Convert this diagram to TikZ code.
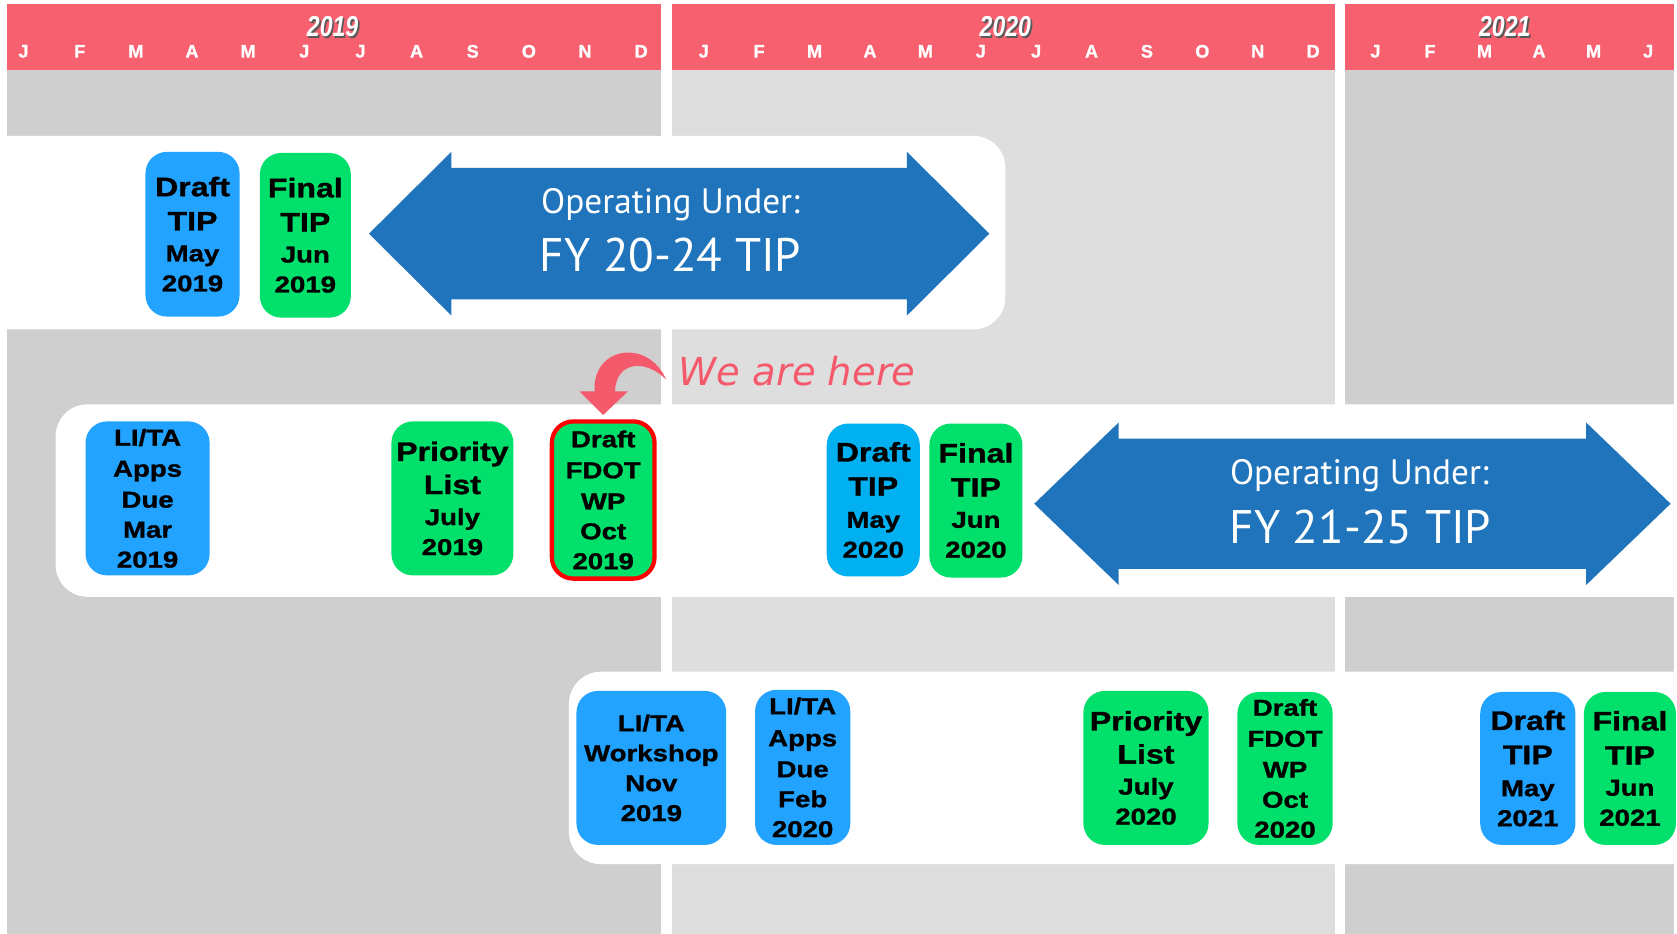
\documentclass[tikz,border=0pt]{standalone}
\usepackage{fontspec}
\setmainfont{Liberation Sans}
\newfontfamily\boxfont{Liberation Sans}[FakeStretch=1.2, FakeBold=1.2]
\newfontfamily\monthfont{Liberation Sans}[FakeBold=1]
\newfontfamily\yearfont{Liberation Sans}[FakeStretch=0.8]
\newfontfamily\arrowfont{PT Sans}
\newfontfamily\herefont{DejaVu Sans}
\usetikzlibrary{positioning}

\definecolor{hdrred}{HTML}{F7616F}
\definecolor{tipblue}{HTML}{1F74BB}
\definecolor{evblue}{HTML}{22A3FF}
\definecolor{evcyan}{HTML}{00B0F0}
\definecolor{evgreen}{HTML}{00E06A}
\definecolor{darkcol}{HTML}{CFCFCF}
\definecolor{lightcol}{HTML}{DEDEDE}
\definecolor{herered}{HTML}{F45A6B}

\newcommand{\bigtxt}{\fontsize{25}{28}\selectfont}

\begin{document}
\begin{tikzpicture}[
            x=1pt, y=-1pt,
            event/.style={
                fill=#1,
                rounded corners=20pt,
                inner sep=0pt,
                align=center,
                font=\boxfont\bfseries\fontsize{21.5}{28}\selectfont
            },
            month/.style={text=white, font=\monthfont\bfseries\fontsize{17}{17}\selectfont},
            year/.style={text=white, font=\yearfont\bfseries\itshape\fontsize{27}{27}\selectfont},
            yearshadow/.style={year, text=black!65},
            optext/.style={text=white, font=\arrowfont\fontsize{33}{33}\selectfont},
            fytext/.style={text=white, font=\arrowfont\fontsize{44}{44}\selectfont},
            heretext/.style={text=herered, font=\herefont\itshape\fontsize{36}{36}\selectfont}
        ]

        \useasboundingbox (0,0) rectangle (1568,873);

        % columns
        \fill[darkcol] (7,65) rectangle (618,873);
        \fill[lightcol] (628,65) rectangle (1248,873);
        \fill[darkcol] (1258,65) rectangle (1565,873);

        % header
        \fill[hdrred] (7,4) rectangle (618,65);
        \fill[hdrred] (628,4) rectangle (1248,65);
        \fill[hdrred] (1258,4) rectangle (1565,65);

        \node[yearshadow] at (312.5,26.5) {2019};
        \node[year] (y19) at (311,25) {2019};
        \node[yearshadow] at (941.5,26.5) {2020};
        \node[year] (y20) at (940,25) {2020};
        \node[yearshadow] at (1408.5,26.5) {2021};
        \node[year] (y21) at (1407,25) {2021};

        \foreach \m [count=\i from 0] in {J,F,M,A,M,J,J,A,S,O,N,D}
            \node[month] (a\i) at ({22+52.5*\i},48) {\m};
        \foreach \m [count=\i from 0] in {J,F,M,A,M,J,J,A,S,O,N,D}
            \node[month] (b\i) at ({658+51.8*\i},48) {\m};
        \foreach \m [count=\i from 0] in {J,F,M,A,M,J}
            \node[month] (c\i) at ({1286+51*\i},48) {\m};

        % bands
        \fill[white, rounded corners=30pt] (-40,127) rectangle (940,308);
        \fill[white, rounded corners=30pt] (52,378) rectangle (1610,558);
        \fill[white, rounded corners=30pt] (532,628) rectangle (1610,808);

        % operating under arrows
        \fill[tipblue] (345,218.5) -- (422,142) -- (422,157) -- (848,157) -- (848,142)
            -- (925,218.5) -- (848,295) -- (848,280) -- (422,280) -- (422,295) -- cycle;
        \node[optext] (op20) at (627,191) {Operating Under:};
        \node[fytext] (fy20) at (627,238) {FY 20-24 TIP};

        \fill[tipblue] (967,471) -- (1046,395) -- (1046,410) -- (1483,410) -- (1483,395)
            -- (1562,471) -- (1483,547) -- (1483,532) -- (1046,532) -- (1046,547) -- cycle;
        \node[optext] (op21) at (1271,445) {Operating Under:};
        \node[fytext] (fy21) at (1272,493) {FY 21-25 TIP};

        % first cycle
        \node[event=evblue, minimum width=88pt, minimum height=154pt] (draft19) at (180,219)
            {{\bigtxt Draft}\\[4pt]{\bigtxt TIP}\\[1pt]May\\2019};
        \node[event=evgreen, minimum width=85pt, minimum height=154pt] (final19) at (285.5,220)
            {{\bigtxt Final}\\[4pt]{\bigtxt TIP}\\[1pt]Jun\\2019};

        % second cycle
        \node[event=evblue, minimum width=116pt, minimum height=144pt] (lita19) at (138,466)
            {LI/TA\\[1pt]Apps\\[1pt]Due\\Mar\\2019};
        \node[event=evgreen, minimum width=114pt, minimum height=144pt] (prio19) at (423,466)
            {{\bigtxt Priority}\\[3pt]{\bigtxt List}\\[1pt]July\\2019};
        \node[event=evgreen, draw=red, line width=4pt, minimum width=96pt, minimum height=147pt]
            (fdot19) at (564,467.5) {Draft\\[1pt]FDOT\\[1pt]WP\\Oct\\2019};
        \node[event=evcyan, minimum width=87pt, minimum height=143pt] (draft20) at (816.5,467.5)
            {{\bigtxt Draft}\\[4pt]{\bigtxt TIP}\\[2pt]May\\2020};
        \node[event=evgreen, minimum width=87pt, minimum height=144pt] (final20) at (912.5,468)
            {{\bigtxt Final}\\[4pt]{\bigtxt TIP}\\[1pt]Jun\\2020};

        % third cycle
        \node[event=evblue, minimum width=140pt, minimum height=144pt] (shop19) at (609,718)
            {LI/TA\\Workshop\\Nov\\2019};
        \node[event=evblue, minimum width=89pt, minimum height=145pt] (lita20) at (750.5,717.5)
            {LI/TA\\[2pt]Apps\\[1pt]Due\\Feb\\2020};
        \node[event=evgreen, minimum width=117pt, minimum height=144pt] (prio20) at (1071.5,718)
            {{\bigtxt Priority}\\[3pt]{\bigtxt List}\\[1pt]July\\2020};
        \node[event=evgreen, minimum width=89pt, minimum height=143pt] (fdot20) at (1201.5,718.5)
            {Draft\\[1pt]FDOT\\[1pt]WP\\Oct\\2020};
        \node[event=evblue, minimum width=89pt, minimum height=143pt] (draft21) at (1428.5,718.5)
            {{\bigtxt Draft}\\[4pt]{\bigtxt TIP}\\[2pt]May\\2021};
        \node[event=evgreen, minimum width=86pt, minimum height=143pt] (final21) at (1524,718.5)
            {{\bigtxt Final}\\[4pt]{\bigtxt TIP}\\[1pt]Jun\\2021};

        % we are here
        \node[heretext, anchor=west] (here) at (631,347) {We are here};
        \fill[herered] (556,366) .. controls (553,325) and (605,315) .. (623,355)
            .. controls (603,335) and (576,338) .. (575,366)
            -- (587,366) -- (564,388) -- (542,366) -- cycle;
    \end{tikzpicture}
\end{document}
